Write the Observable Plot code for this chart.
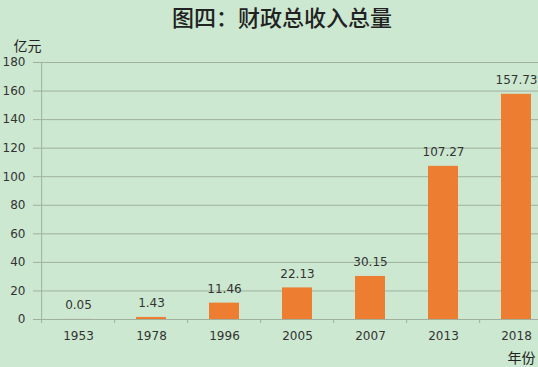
<!DOCTYPE html>
<html>
<head>
<meta charset="utf-8">
<script src="https://cdn.jsdelivr.net/npm/d3@7"></script>
<script src="https://cdn.jsdelivr.net/npm/@observablehq/plot@0.6"></script>
<style>
  html, body { margin: 0; padding: 0; background: #cce8d0; overflow: hidden; }
  #chart svg { display: block; }
</style>
</head>
<body>
<div id="chart"></div>
<script>
const years = ["1953", "1978", "1996", "2005", "2007", "2013", "2018"];
const revenue = [0.05, 1.43, 11.46, 22.13, 30.15, 107.27, 157.73];
const yTicks = [0, 20, 40, 60, 80, 100, 120, 140, 160, 180];
const titleText = "图四：财政总收入总量";
const yUnit = "亿元";
const xUnit = "年份";

const data = years.map((y, i) => ({year: y, value: revenue[i], label: revenue[i].toFixed(2)}));

const W = 538, H = 367;
const mL = 39, mR = 0, mT = 62, mB = 48;
const xEnd = 555; // last category band runs past the right edge
const step = (xEnd - mL) / years.length;
const cjk = "'Noto Sans CJK SC', sans-serif";
const num = "'DejaVu Sans', sans-serif";
const gridColor = "#9fb09f";

const chart = Plot.plot({
  width: W,
  height: H,
  marginLeft: mL,
  marginRight: mR,
  marginTop: mT,
  marginBottom: mB,
  style: {background: "#cce8d0", fontFamily: num, color: "#333", overflow: "hidden"},
  x: {domain: years, range: [mL, xEnd], paddingInner: 0.59, paddingOuter: 0.295, label: null},
  y: {domain: [0, 180], label: null},
  marks: [
    Plot.ruleY(yTicks.filter(d => d > 0), {stroke: gridColor, strokeWidth: 1}),
    Plot.axisY({ticks: yTicks, tickSize: 6, tickPadding: 8, stroke: gridColor, fontSize: 12, fill: "#333", label: null}),
    Plot.ruleX([0], {x: () => years[0], dx: -step / 2, stroke: gridColor}),
    Plot.barY(data, {x: "year", y: "value", fill: "#ed7d31"}),
    Plot.ruleY([0], {stroke: gridColor, strokeWidth: 1}),
    Plot.axisX({ticks: years, tickSize: 0, tickPadding: 12, fontSize: 12, fill: "#333", label: null}),
    Plot.axisX({ticks: years, tickSize: 4, text: null, dx: -step / 2, stroke: gridColor, label: null}),
    Plot.text(data, {x: "year", y: "value", text: "label", dy: -14, fontSize: 12, fill: "#333"}),
    Plot.text([titleText], {frameAnchor: "top", dx: -7, dy: -52, fontSize: 22, fontWeight: 500, fill: "#222", fontFamily: cjk, text: d => d, style: {letterSpacing: "5px"}}),
    Plot.text([yUnit], {frameAnchor: "top-left", dx: -26, dy: -21, fontSize: 14, fill: "#222", fontFamily: cjk, text: d => d}),
    Plot.text([xUnit], {frameAnchor: "bottom-right", dx: -3, dy: 43, fontSize: 14, fill: "#222", fontFamily: cjk, text: d => d})
  ]
});
document.getElementById("chart").append(chart);
</script>
</body>
</html>
